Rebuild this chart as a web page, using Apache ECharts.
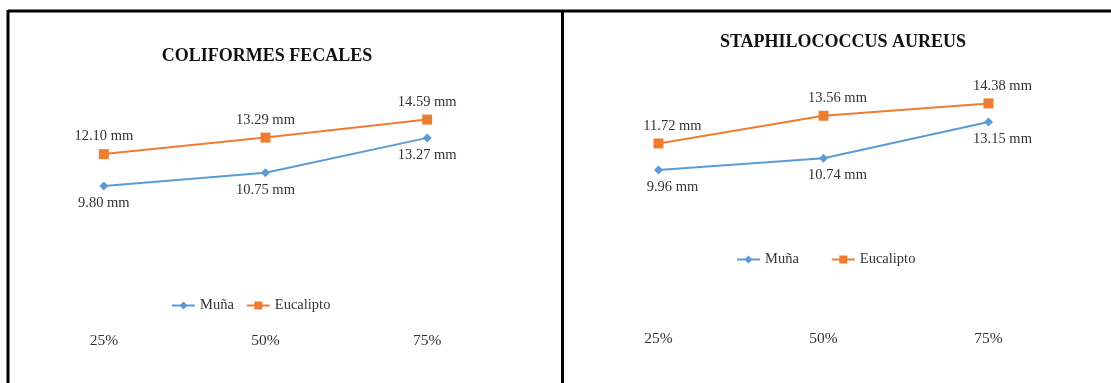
<!DOCTYPE html>
<html>
<head>
<meta charset="utf-8">
<script src="https://cdn.jsdelivr.net/npm/echarts@6/dist/echarts.min.js"></script>
<style>
  html, body { margin: 0; padding: 0; background: #fff; }
  #chart { width: 1111px; height: 383px; }
</style>
</head>
<body>
<div id="chart"></div>
<script>
  // datos
  var categories = ['25%', '50%', '75%'];
  var seriesNames = ['Muña', 'Eucalipto'];
  var titles = ['COLIFORMES FECALES', 'STAPHILOCOCCUS AUREUS'];
  var coliMuna = [9.80, 10.75, 13.27];
  var coliEucalipto = [12.10, 13.29, 14.59];
  var staphMuna = [9.96, 10.74, 13.15];
  var staphEucalipto = [11.72, 13.56, 14.38];

  var serif = 'Liberation Serif';
  var blue = '#5B9BD5';
  var orange = '#ED7D31';

  function mm(p) {
    return p.value.toFixed(2) + ' mm';
  }

  function makeSeries(name, data, idx, color, symbol, size, pos, offset) {
    return {
      name: name,
      type: 'line',
      xAxisIndex: idx,
      yAxisIndex: idx,
      data: data,
      symbol: symbol,
      symbolSize: size,
      itemStyle: { color: color },
      lineStyle: { color: color, width: 2 },
      label: {
        show: true,
        position: pos,
        offset: offset,
        formatter: mm,
        fontFamily: serif,
        fontSize: 14.5,
        color: '#333'
      },
      animation: false
    };
  }

  var chart = echarts.init(document.getElementById('chart'));
  chart.setOption({
    backgroundColor: '#fff',
    title: [
      {
        text: titles[0], left: 262, top: 42, textAlign: 'center',
        textStyle: { fontFamily: serif, fontSize: 18, fontWeight: 'bold', color: '#111' }
      },
      {
        text: titles[1], left: 838, top: 28, textAlign: 'center',
        textStyle: { fontFamily: serif, fontSize: 18, fontWeight: 'bold', color: '#111' }
      }
    ],
    legend: [
      {
        data: seriesNames.map(function (n) { return { name: n }; }),
        left: 166, top: 293, itemWidth: 23, itemHeight: 10, itemGap: 12,
        textStyle: { fontFamily: serif, fontSize: 14.5, color: '#333' },
        selectedMode: false
      },
      {
        data: seriesNames.map(function (n) { return { name: n }; }),
        left: 731, top: 247, itemWidth: 23, itemHeight: 10, itemGap: 32,
        textStyle: { fontFamily: serif, fontSize: 14.5, color: '#333' },
        selectedMode: false
      }
    ],
    grid: [
      { left: 23, right: 603, top: 100, bottom: 61 },
      { left: 576, right: 40, top: 79, bottom: 63 }
    ],
    xAxis: [0, 1].map(function (i) {
      return {
        type: 'category', gridIndex: i, data: categories,
        axisLine: { show: false }, axisTick: { show: false },
        axisLabel: { margin: 11, fontFamily: serif, fontSize: 15.5, color: '#333' }
      };
    }),
    yAxis: [0, 1].map(function (i) {
      return { type: 'value', gridIndex: i, min: 0, max: 16, show: false, splitLine: { show: false } };
    }),
    series: [
      makeSeries(seriesNames[0], coliMuna, 0, blue, 'diamond', 9, 'bottom', [0, 0]),
      makeSeries(seriesNames[1], coliEucalipto, 0, orange, 'rect', 10, 'top', [0, 0]),
      makeSeries(seriesNames[0], staphMuna, 1, blue, 'diamond', 9, 'bottom', [14, 0]),
      makeSeries(seriesNames[1], staphEucalipto, 1, orange, 'rect', 10, 'top', [14, 0])
    ],
    graphic: [
      // marco de los dos paneles
      { type: 'line', shape: { x1: 8, y1: 11, x2: 1111, y2: 11 }, style: { stroke: '#000', lineWidth: 3 } },
      { type: 'line', shape: { x1: 8, y1: 10, x2: 8, y2: 383 }, style: { stroke: '#000', lineWidth: 3 } },
      { type: 'line', shape: { x1: 562.5, y1: 10, x2: 562.5, y2: 383 }, style: { stroke: '#000', lineWidth: 3 } }
    ]
  });
</script>
</body>
</html>
